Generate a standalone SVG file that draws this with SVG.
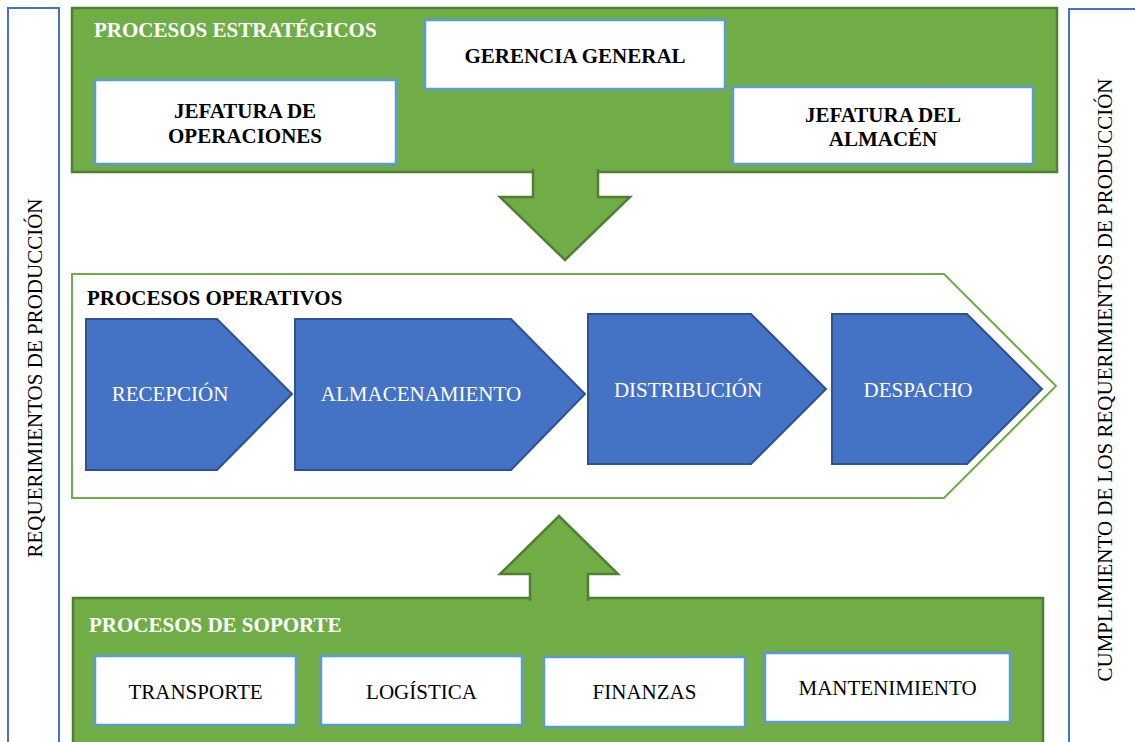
<svg xmlns="http://www.w3.org/2000/svg" width="1135" height="742" viewBox="0 0 1135 742">
<style>
.side{fill:#fff;stroke:#4472C4;stroke-width:2}
.grn{fill:#70AD47;stroke:#507E32;stroke-width:2.5}
.wbox{fill:#fff;stroke:#5B9BD5;stroke-width:2.5}
.chev{fill:#4472C4;stroke:#2F528F;stroke-width:2}
.t{font-family:"Liberation Serif","Times New Roman",serif;font-size:21px}
.b{font-weight:bold}
.c{text-anchor:middle}
.w{fill:#fff}
.k{fill:#000}
</style>
<g id="side-left">
<rect class="side" x="8" y="8" width="51" height="745"/>
<text class="t k c" transform="translate(42,378) rotate(-90)">REQUERIMIENTOS DE PRODUCCIÓN</text>
</g>
<g id="side-right">
<rect class="side" x="1069" y="9" width="80" height="745"/>
<text class="t k c" transform="translate(1112,380) rotate(-90)">CUMPLIMIENTO DE LOS REQUERIMIENTOS DE PRODUCCIÓN</text>
</g>
<g id="estrategicos">
<rect class="grn" x="72" y="8" width="985" height="164"/>
<text class="t b w" x="94" y="37">PROCESOS ESTRATÉGICOS</text>
</g>
<g id="gerencia">
<rect class="wbox" x="425" y="20" width="300" height="69"/>
<text class="t b k c" x="575" y="63">GERENCIA GENERAL</text>
</g>
<g id="jef-operaciones">
<rect class="wbox" x="95" y="80" width="301" height="84"/>
<text class="t b k c" x="245" y="118">JEFATURA DE</text>
<text class="t b k c" x="245" y="143">OPERACIONES</text>
</g>
<g id="jef-almacen">
<rect class="wbox" x="733" y="87" width="300" height="77"/>
<text class="t b k c" x="883" y="122">JEFATURA DEL</text>
<text class="t b k c" x="883" y="146">ALMACÉN</text>
</g>
<g id="operativos">
<path d="M72,274 L944,274 L1056,386 L944,498 L72,498 Z" fill="#fff" stroke="#70AD47" stroke-width="2"/>
<text class="t b k" x="87" y="305">PROCESOS OPERATIVOS</text>
</g>
<g id="recepcion">
<path class="chev" d="M86,319 L217,319 L292,394 L217,470 L86,470 Z"/>
<text class="t w c" x="170" y="401">RECEPCIÓN</text>
</g>
<g id="almacenamiento">
<path class="chev" d="M295,319 L511,319 L585,394 L511,470 L295,470 Z"/>
<text class="t w c" x="421" y="401">ALMACENAMIENTO</text>
</g>
<g id="distribucion">
<path class="chev" d="M588,314 L751,314 L826,389 L751,464 L588,464 Z"/>
<text class="t w c" x="688" y="397">DISTRIBUCIÓN</text>
</g>
<g id="despacho">
<path class="chev" d="M832,314 L967,314 L1042,389 L967,464 L832,464 Z"/>
<text class="t w c" x="918" y="397">DESPACHO</text>
</g>
<g id="soporte">
<rect class="grn" x="73" y="598" width="970" height="160"/>
<text class="t b w" x="89" y="632">PROCESOS DE SOPORTE</text>
</g>
<g id="transporte">
<rect class="wbox" x="95" y="656" width="201" height="69"/>
<text class="t k c" x="195.5" y="699">TRANSPORTE</text>
</g>
<g id="logistica">
<rect class="wbox" x="321" y="656" width="201" height="69"/>
<text class="t k c" x="421.5" y="699">LOGÍSTICA</text>
</g>
<g id="finanzas">
<rect class="wbox" x="544" y="657" width="201" height="70"/>
<text class="t k c" x="644.5" y="699">FINANZAS</text>
</g>
<g id="mantenimiento">
<rect class="wbox" x="765" y="653" width="245" height="69"/>
<text class="t k c" x="887.5" y="695">MANTENIMIENTO</text>
</g>
<g id="connectors">
<path d="M533,169 L533,197 L500,197 L565,260 L630,197 L598,197 L598,169" fill="#70AD47" stroke="#507E32" stroke-width="2.5"/>
<path d="M530,601 L530,574 L500,574 L559,516 L618,574 L588,574 L588,601" fill="#70AD47" stroke="#507E32" stroke-width="2.5"/>
</g>
</svg>
